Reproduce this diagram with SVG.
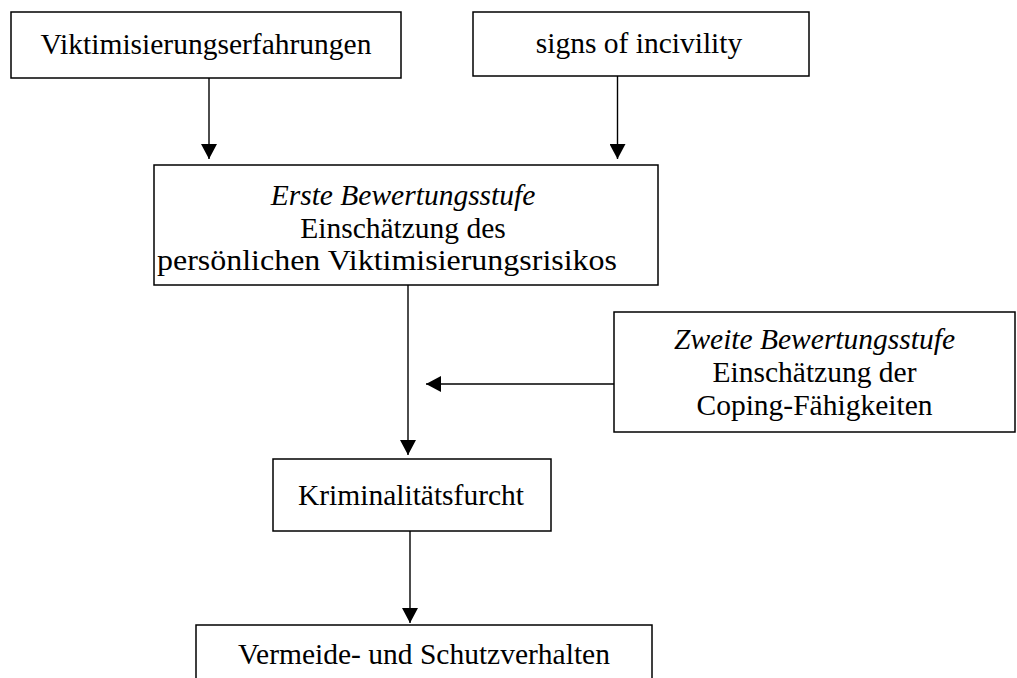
<svg xmlns="http://www.w3.org/2000/svg" width="1017" height="678" viewBox="0 0 1017 678">
  <defs>
    <style>
      .box { fill: #ffffff; stroke: #000000; stroke-width: 1.5; }
      .t { font-family: "Liberation Serif", "Times New Roman", serif; font-size: 29.5px; fill: #000000; text-anchor: middle; }
      .it { font-style: italic; }
      .conn { stroke: #000000; stroke-width: 1.4; fill: none; marker-end: url(#arrow); }
    </style>
    <marker id="arrow" markerUnits="userSpaceOnUse" viewBox="0 0 15 16" refX="15" refY="8" markerWidth="15" markerHeight="16" orient="auto">
      <path d="M0,0 L15,8 L0,16 Z" fill="#000000"/>
    </marker>
  </defs>
  <rect width="1017" height="678" fill="#ffffff"/>

  <g id="connectors">
    <line class="conn" x1="209" y1="78" x2="209" y2="159"/>
    <line class="conn" x1="617.5" y1="76" x2="617.5" y2="159"/>
    <line class="conn" x1="408" y1="285" x2="408" y2="455"/>
    <line class="conn" x1="614" y1="384" x2="426" y2="384"/>
    <line class="conn" x1="410" y1="531" x2="410" y2="623"/>
  </g>

  <g id="node-viktimisierung">
    <rect class="box" x="11" y="12" width="390" height="66"/>
    <text class="t" x="206" y="54">Viktimisierungserfahrungen</text>
  </g>

  <g id="node-incivility">
    <rect class="box" x="473" y="12" width="336" height="64"/>
    <text class="t" x="639" y="53">signs of incivility</text>
  </g>

  <g id="node-erste">
    <rect class="box" x="154" y="165" width="504" height="120"/>
    <text class="t it" x="403" y="205">Erste Bewertungsstufe</text>
    <text class="t" x="403" y="238">Einschätzung des</text>
    <text class="t" x="387" y="270" textLength="460" lengthAdjust="spacingAndGlyphs">persönlichen Viktimisierungsrisikos</text>
  </g>

  <g id="node-zweite">
    <rect class="box" x="614" y="312" width="401" height="120"/>
    <text class="t it" x="814.5" y="349">Zweite Bewertungsstufe</text>
    <text class="t" x="814.5" y="382">Einschätzung der</text>
    <text class="t" x="814.5" y="415">Coping-Fähigkeiten</text>
  </g>

  <g id="node-furcht">
    <rect class="box" x="273" y="459" width="278" height="72"/>
    <text class="t" x="411" y="505">Kriminalitätsfurcht</text>
  </g>

  <g id="node-verhalten">
    <rect class="box" x="196" y="625" width="456" height="70"/>
    <text class="t" x="424" y="664">Vermeide- und Schutzverhalten</text>
  </g>
</svg>
